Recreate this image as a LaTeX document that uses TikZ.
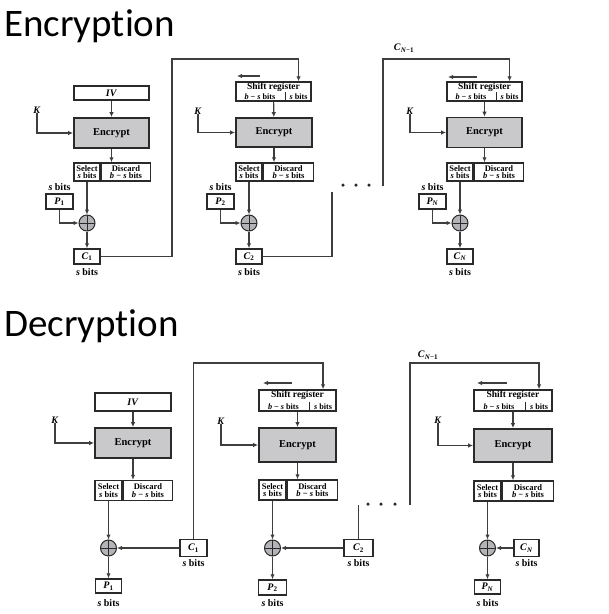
\documentclass[tikz,border=0pt]{standalone}
\usepackage{fontspec}
\setmainfont{Liberation Serif}
\newfontfamily\titlefont[Ligatures=NoCommon]{Carlito}
\usetikzlibrary{arrows.meta,positioning}
\definecolor{boxc}{HTML}{2A2A2A}
\definecolor{linec}{HTML}{3E3E3E}
\definecolor{encfill}{HTML}{C9C9CC}
\definecolor{xorfill}{HTML}{B4B4B8}
\begin{document}
\begin{tikzpicture}[x=1pt, y=-1pt, >={Latex[length=5pt,width=4.5pt]},
		box/.style = {draw=boxc, line width=1.5pt, fill=white, inner sep=0pt, font=\bfseries\fontsize{10}{10}\selectfont},
		enc/.style = {box, fill=encfill, line width=1.8pt, minimum width=75pt, minimum height=30pt, font=\bfseries\fontsize{10.5}{11}\selectfont},
		cell/.style = {box, minimum height=18pt, align=center, font=\bfseries\fontsize{8.5}{7.8}\selectfont},
		reg/.style = {box, minimum width=75pt, minimum height=19pt},
		regcell/.style = {inner sep=0pt, minimum height=9pt, font=\bfseries\fontsize{8.2}{8}\selectfont},
		small/.style = {box, minimum width=27pt, minimum height=15pt},
		xor/.style = {circle, draw=boxc, line width=1pt, fill=xorfill, minimum size=16pt, inner sep=0pt,
			path picture={\draw[boxc, line width=.8pt] (path picture bounding box.north) -- (path picture bounding box.south)
				(path picture bounding box.west) -- (path picture bounding box.east);}},
		lbl/.style = {inner sep=0pt, font=\bfseries\fontsize{10}{10}\selectfont},
		title/.style = {inner sep=0pt, anchor=base west, font=\titlefont\fontsize{39}{39}\selectfont},
		dot/.style = {circle, fill=boxc, inner sep=0pt, minimum size=3.5pt},
		line/.style = {draw=linec, line width=1.2pt}]
	\useasboundingbox (0,0) rectangle (609,614);
	
	%Titles
	\node[title] (enct) at (4,36) {Encryption};
	\node[title] (dect) at (4,336) {Decryption};
	
	%Encryption, first stage
	\node[enc] (enc1) at (111.5,133) {Encrypt};
	\node[box, minimum width=75pt, minimum height=14pt] (iv1) [node distance=40pt, above of=enc1] {\textit{IV}};
	\node[cell, minimum width=26pt] (sl1) at (87,172) {Select\\\textit{s} bits};
	\node[cell, minimum width=49pt, right=0pt of sl1] (ds1) {Discard\\\textit{b} − \textit{s} bits};
	\node[lbl] (k1) at (37,110) {\textit{K}};
	\node[small] (p1) at (59.5,201.5) {\textit{P}\textsubscript{1}};
	\node[lbl] (p1b) [node distance=14.5pt, above of=p1] {\textit{s} bits};
	\node[xor] (x1) [node distance=51pt, below of=sl1] {};
	\node[small, minimum width=26pt] (c1) [node distance=33.5pt, below of=x1] {\textit{C}\textsubscript{1}};
	\node[lbl] (c1b) [node distance=15.5pt, below of=c1] {\textit{s} bits};
	\coordinate (t1) at (172,59);
	
	%Encryption, second stage
	\node[reg] (sr2) at (273.5,91.5) {};
	\node[lbl, anchor=north, font=\bfseries\fontsize{9.5}{9.5}\selectfont] (srt2) at ([yshift=-1pt]sr2.north) {Shift register};
	\node[regcell, minimum width=49pt, anchor=south west] (bs2) at (sr2.south west) {\textit{b} − \textit{s} bits};
	\node[regcell, minimum width=26pt, anchor=south east] (sb2) at (sr2.south east) {\textit{s} bits};
	\coordinate (la2) at (260,76);
	\coordinate (lb2) at (237,76);
	\node[enc, minimum width=76pt, minimum height=29pt] (enc2) at (274,132.5) {Encrypt};
	\node[cell, minimum width=26pt] (sl2) at (249,172) {Select\\\textit{s} bits};
	\node[cell, minimum width=50pt, right=0pt of sl2] (ds2) {Discard\\\textit{b} − \textit{s} bits};
	\node[lbl] (k2) at (198,111) {\textit{K}};
	\node[small] (p2) at (220.5,201.5) {\textit{P}\textsubscript{2}};
	\node[lbl] (p2b) [node distance=14.5pt, above of=p2] {\textit{s} bits};
	\node[xor] (x2) [node distance=51pt, below of=sl2] {};
	\node[small, minimum width=26pt] (c2) [node distance=33.5pt, below of=x2] {\textit{C}\textsubscript{2}};
	\node[lbl] (c2b) [node distance=15.5pt, below of=c2] {\textit{s} bits};
	\coordinate (t2) at (332,192);
	
	%Dots between the stages
	\node[dot] (d1) at (343,185) {};
	\node[dot] (d2) at (356,185) {};
	\node[dot] (d3) at (369,185) {};
	
	%Encryption, last stage
	\coordinate (tN) at (383,186);
	\coordinate (uN) at (383,59);
	\node[lbl] (cn1) at (404,48) {\textit{C}\textsubscript{\textit{N}−1}};
	\node[reg] (srN) at (484.5,91.5) {};
	\node[lbl, anchor=north, font=\bfseries\fontsize{9.5}{9.5}\selectfont] (srtN) at ([yshift=-1pt]srN.north) {Shift register};
	\node[regcell, minimum width=49pt, anchor=south west] (bsN) at (srN.south west) {\textit{b} − \textit{s} bits};
	\node[regcell, minimum width=26pt, anchor=south east] (sbN) at (srN.south east) {\textit{s} bits};
	\coordinate (laN) at (477,77);
	\coordinate (lbN) at (448,77);
	\node[enc] (encN) at (484.5,132.5) {Encrypt};
	\node[cell, minimum width=26pt] (slN) at (460,172) {Select\\\textit{s} bits};
	\node[cell, minimum width=49pt, right=0pt of slN] (dsN) {Discard\\\textit{b} − \textit{s} bits};
	\node[lbl] (kN) at (410,111) {\textit{K}};
	\node[small] (pN) at (432.5,201.5) {\textit{P}\textsubscript{\textit{N}}};
	\node[lbl] (pNb) [node distance=14.5pt, above of=pN] {\textit{s} bits};
	\node[xor] (xN) [node distance=51pt, below of=slN] {};
	\node[small, minimum width=26pt] (cN) [node distance=33.5pt, below of=xN] {\textit{C}\textsubscript{\textit{N}}};
	\node[lbl] (cNb) [node distance=15.5pt, below of=cN] {\textit{s} bits};
	
	%Encryption edges
	\path [->, line] (iv1) edge (enc1);
	\draw [->, line] (enc1.south) -- (enc1.south |- ds1.north);
	\draw [->, line] (k1.south) |- (enc1.west);
	\draw [->, line] (sl1.south) -- (x1.north);
	\draw [->, line] (p1.south) |- (x1.west);
	\draw [->, line] (x1.south) -- (c1.north);
	\draw [->, line] (c1.east) -| (t1) -| (sb2.north |- sr2.north); %C1 fed into next register
	\draw [->, line] (la2) -- (lb2); %Shift direction
	\draw [boxc, line width=1pt] (sb2.north west) -- (sb2.south west);
	\path [->, line] (sr2) edge (enc2);
	\draw [->, line] (enc2.south) -- (enc2.south |- ds2.north);
	\draw [->, line] (k2.south) |- (enc2.west);
	\draw [->, line] (sl2.south) -- (x2.north);
	\draw [->, line] (p2.south) |- (x2.west);
	\draw [->, line] (x2.south) -- (c2.north);
	\draw [line] (c2.east) -| (t2); %C2 onwards
	\draw [->, line] (tN) -- (uN) -| (sbN.north |- srN.north); %C_{N-1} in
	\draw [->, line] (laN) -- (lbN);
	\draw [boxc, line width=1pt] (sbN.north west) -- (sbN.south west);
	\path [->, line] (srN) edge (encN);
	\draw [->, line] (encN.south) -- (encN.south |- dsN.north);
	\draw [->, line] (kN.south) |- (encN.west);
	\draw [->, line] (slN.south) -- (xN.north);
	\draw [->, line] (pN.south) |- (xN.west);
	\draw [->, line] (xN.south) -- (cN.north);
	
	%Decryption, first stage
	\node[enc, minimum width=76pt] (encd1) at (133,443) {Encrypt};
	\node[box, minimum width=76pt, minimum height=18pt] (ivd1) [node distance=41pt, above of=encd1] {\textit{IV}};
	\node[cell, minimum width=27pt, minimum height=20pt] (sld1) at (108.5,490.5) {Select\\\textit{s} bits};
	\node[cell, minimum width=49pt, minimum height=20pt, right=0pt of sld1] (dsd1) {Discard\\\textit{b} − \textit{s} bits};
	\node[lbl] (kd1) at (55,420) {\textit{K}};
	\node[xor] (xd1) [node distance=57.5pt, below of=sld1] {};
	\node[small, minimum width=26pt, minimum height=14pt] (pd1) [node distance=38pt, below of=xd1] {\textit{P}\textsubscript{1}};
	\node[lbl] (pd1b) [node distance=17pt, below of=pd1] {\textit{s} bits};
	\node[small, minimum height=17pt] (cd1) at (193.5,548) {\textit{C}\textsubscript{1}};
	\node[lbl] (cd1b) [node distance=15.5pt, below of=cd1] {\textit{s} bits};
	\coordinate (td1) at (193.5,363);
	
	%Decryption, second stage
	\node[reg, minimum width=77pt, minimum height=21pt] (srd2) at (297.5,400.5) {};
	\node[lbl, anchor=north, font=\bfseries\fontsize{9.5}{9.5}\selectfont] (srtd2) at ([yshift=-1pt]srd2.north) {Shift register};
	\node[regcell, minimum width=50pt, anchor=south west] (bsd2) at (srd2.south west) {\textit{b} − \textit{s} bits};
	\node[regcell, minimum width=27pt, anchor=south east] (sbd2) at (srd2.south east) {\textit{s} bits};
	\coordinate (lad2) at (292,383);
	\coordinate (lbd2) at (263,383);
	\node[enc, minimum width=77pt, minimum height=34pt] (encd2) at (297.5,445) {Encrypt};
	\node[cell, minimum width=27pt, minimum height=20pt] (sld2) at (272.5,490) {Select\\\textit{s} bits};
	\node[cell, minimum width=50pt, minimum height=20pt, right=0pt of sld2] (dsd2) {Discard\\\textit{b} − \textit{s} bits};
	\node[lbl] (kd2) at (221,421) {\textit{K}};
	\node[xor] (xd2) [node distance=58pt, below of=sld2] {};
	\node[small, minimum width=28pt] (pd2) [node distance=39.5pt, below of=xd2] {\textit{P}\textsubscript{2}};
	\node[lbl] (pd2b) [node distance=15.5pt, below of=pd2] {\textit{s} bits};
	\node[small, minimum width=29pt, minimum height=17pt] (cd2) at (358.5,548) {\textit{C}\textsubscript{2}};
	\node[lbl] (cd2b) [node distance=15.5pt, below of=cd2] {\textit{s} bits};
	\coordinate (td2) at (358.5,505);
	
	%Dots between the stages
	\node[dot] (dd1) at (368,504) {};
	\node[dot] (dd2) at (381,504) {};
	\node[dot] (dd3) at (395,504) {};
	
	%Decryption, last stage
	\coordinate (tdN) at (410,505);
	\coordinate (udN) at (410,363);
	\node[lbl] (cdn1) at (428,355) {\textit{C}\textsubscript{\textit{N}−1}};
	\node[reg, minimum width=78pt, minimum height=21pt] (srdN) at (513,400.5) {};
	\node[lbl, anchor=north, font=\bfseries\fontsize{9.5}{9.5}\selectfont] (srtdN) at ([yshift=-1pt]srdN.north) {Shift register};
	\node[regcell, minimum width=51pt, anchor=south west] (bsdN) at (srdN.south west) {\textit{b} − \textit{s} bits};
	\node[regcell, minimum width=27pt, anchor=south east] (sbdN) at (srdN.south east) {\textit{s} bits};
	\coordinate (ladN) at (507,383);
	\coordinate (lbdN) at (477,383);
	\node[enc, minimum width=78pt, minimum height=33pt] (encdN) at (513,445.5) {Encrypt};
	\node[cell, minimum width=27pt, minimum height=20pt] (sldN) at (487.5,491) {Select\\\textit{s} bits};
	\node[cell, minimum width=51pt, minimum height=20pt, right=0pt of sldN] (dsdN) {Discard\\\textit{b} − \textit{s} bits};
	\node[lbl] (kdN) at (438,420) {\textit{K}};
	\node[xor] (xdN) [node distance=57pt, below of=sldN] {};
	\node[small, minimum width=26pt, minimum height=14pt] (pdN) [node distance=39pt, below of=xdN] {\textit{P}\textsubscript{\textit{N}}};
	\node[lbl] (pdNb) [node distance=16pt, below of=pdN] {\textit{s} bits};
	\node[small, minimum width=25pt, minimum height=17pt] (cdN) at (526.5,548) {\textit{C}\textsubscript{\textit{N}}};
	\node[lbl] (cdNb) [node distance=15.5pt, below of=cdN] {\textit{s} bits};
	
	%Decryption edges
	\path [->, line] (ivd1) edge (encd1);
	\draw [->, line] (encd1.south) -- (encd1.south |- dsd1.north);
	\draw [->, line] (kd1.south) |- (encd1.west);
	\draw [->, line] (sld1.south) -- (xd1.north);
	\draw [->, line] (cd1.west) -- (xd1.east);
	\draw [->, line] (xd1.south) -- (pd1.north);
	\draw [->, line] (cd1.north) |- (td1) -| (sbd2.north |- srd2.north); %C1 fed into next register
	\draw [->, line] (lad2) -- (lbd2); %Shift direction
	\draw [boxc, line width=1pt] (sbd2.north west) -- (sbd2.south west);
	\path [->, line] (srd2) edge (encd2);
	\draw [->, line] (encd2.south) -- (encd2.south |- dsd2.north);
	\draw [->, line] (kd2.south) |- (encd2.west);
	\draw [->, line] (sld2.south) -- (xd2.north);
	\draw [->, line] (cd2.west) -- (xd2.east);
	\draw [->, line] (xd2.south) -- (pd2.north);
	\draw [line] (cd2.north) -- (td2); %C2 onwards
	\draw [->, line] (tdN) -- (udN) -| (sbdN.north |- srdN.north); %C_{N-1} in
	\draw [->, line] (ladN) -- (lbdN);
	\draw [boxc, line width=1pt] (sbdN.north west) -- (sbdN.south west);
	\path [->, line] (srdN) edge (encdN);
	\draw [->, line] (encdN.south) -- (encdN.south |- dsdN.north);
	\draw [->, line] (kdN.south) |- (encdN.west);
	\draw [->, line] (sldN.south) -- (xdN.north);
	\draw [->, line] (cdN.west) -- (xdN.east);
	\draw [->, line] (xdN.south) -- (pdN.north);
\end{tikzpicture}
\end{document}
